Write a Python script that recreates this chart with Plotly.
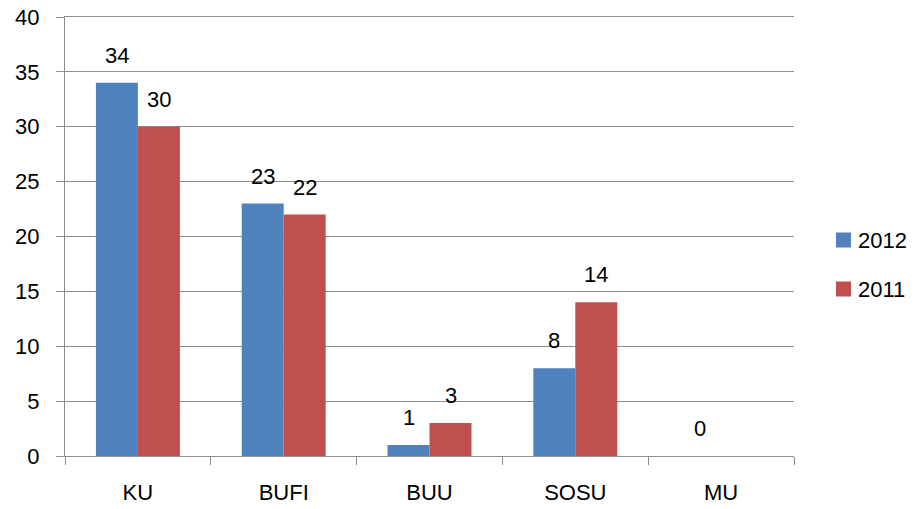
import plotly.graph_objects as go

categories = ["KU", "BUFI", "BUU", "SOSU", "MU"]
values_2012 = [34, 23, 1, 8, 0]
values_2011 = [30, 22, 3, 14, None]
series_names = ["2012", "2011"]
series_colors = ["#4F81BD", "#C0504D"]
y_ticks = [0, 5, 10, 15, 20, 25, 30, 35, 40]

FONT = "Liberation Sans, Arial, sans-serif"
GRID = "#8c8c8c"
FS = 22

W, H = 914, 509
L, T = 65, 17
R = W - 794
B = H - 456
PW, PH = W - L - R, H - T - B


def px_to_paper_x(px):
    return (px - L) / PW


def px_to_paper_y(py):
    return (H - B - py) / PH


fig = go.Figure()
all_values = [values_2012, values_2011]
for name, vals, col in zip(series_names, all_values, series_colors):
    fig.add_trace(go.Bar(x=categories, y=vals, name=name,
                         marker=dict(color=col, line=dict(width=0)),
                         showlegend=False, hoverinfo="skip"))

# data labels
annotations = []
for idx, vals in enumerate(all_values):
    shift = -21 if idx == 0 else 21
    for c, v in zip(categories, vals):
        if v is None:
            continue
        annotations.append(dict(x=c, y=v, xref="x", yref="y", text=str(v),
                                showarrow=False, xshift=shift, yshift=13,
                                yanchor="bottom", xanchor="center",
                                font=dict(size=FS, family=FONT, color="black")))

# legend (drawn manually)
shapes = []
legend_y = [240, 289]
for name, col, py in zip(series_names, series_colors, legend_y):
    shapes.append(dict(type="rect", xref="paper", yref="paper",
                       x0=px_to_paper_x(836), x1=px_to_paper_x(851),
                       y0=px_to_paper_y(py + 7.5), y1=px_to_paper_y(py - 7.5),
                       fillcolor=col, line=dict(width=0)))
    annotations.append(dict(x=px_to_paper_x(856), y=px_to_paper_y(py),
                            xref="paper", yref="paper", text=name,
                            showarrow=False, xanchor="left", yanchor="middle",
                            font=dict(size=FS, family=FONT, color="black")))

fig.update_layout(
    width=W, height=H,
    margin=dict(l=L, r=R, t=T, b=B),
    paper_bgcolor="white", plot_bgcolor="white",
    barmode="group", bargap=0.424, bargroupgap=0,
    font=dict(family=FONT, size=FS, color="black"),
    showlegend=False,
    annotations=annotations,
    shapes=shapes,
    xaxis=dict(
        showline=True, linecolor=GRID, linewidth=1, mirror=True,
        ticks="outside", tickson="boundaries", ticklen=8, tickcolor=GRID,
        showgrid=False, tickfont=dict(size=FS, family=FONT),
        automargin=False, ticklabelstandoff=17, ticklabeloverflow="allow",
    ),
    yaxis=dict(
        range=[0, 40], tickvals=y_ticks,
        showline=True, linecolor=GRID, linewidth=1,
        ticks="outside", ticklen=8, tickcolor=GRID,
        showgrid=True, gridcolor=GRID, gridwidth=1,
        zeroline=False, tickfont=dict(size=FS, family=FONT),
        automargin=False, ticklabelstandoff=12, ticklabeloverflow="allow",
    ),
)

fig.write_html("out.html", config={"displayModeBar": False},
               post_script="document.body.style.margin='0px';")
